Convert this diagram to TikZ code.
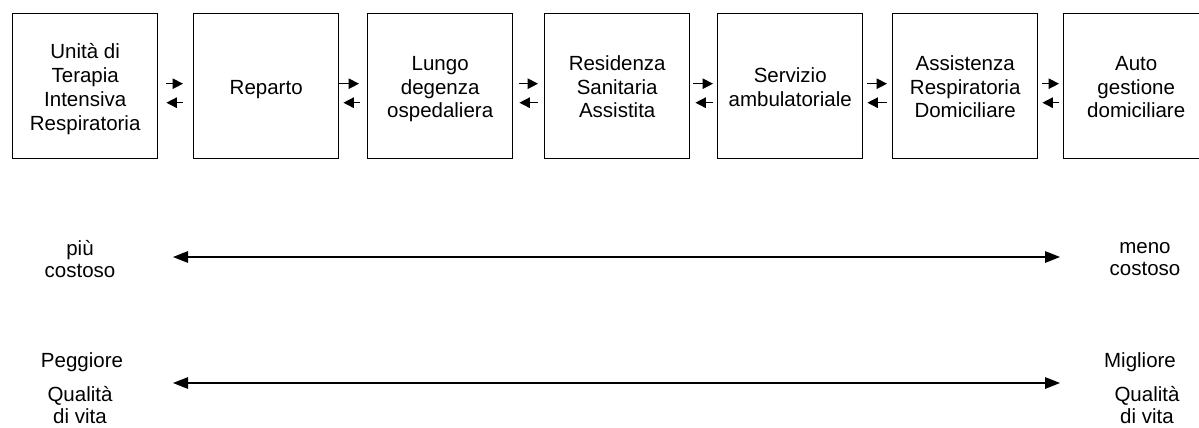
\documentclass[tikz,border=0pt]{standalone}
\usepackage{fontspec}
\setmainfont{Liberation Sans}
\usetikzlibrary{arrows.meta}
% centred stack of lines, lowered slightly inside its box
\newcommand\stagetext[1]{\raisebox{-3pt}[\height][\depth]{\begin{tabular}{@{}c@{}}#1\end{tabular}}}
\begin{document}
\begin{tikzpicture}[x=1pt,y=-1pt,
  stage/.style={draw, line width=1.4pt, minimum width=145pt, minimum height=145pt,
    anchor=north west, inner sep=0pt, font=\fontsize{20.5}{24}\selectfont},
  flow/.style={line width=1.4pt, -{Triangle[length=10.5pt,width=10.5pt]}},
  scalearrow/.style={line width=1.4pt,
    {Triangle[length=15pt,width=11.5pt]}-{Triangle[length=15pt,width=11.5pt]}},
  lbl/.style={align=center, anchor=base, inner sep=0pt, font=\fontsize{20.5}{22}\selectfont}]

\fill[white] (0,0) rectangle (1199,428);
\useasboundingbox (0,0) rectangle (1199,428);

% care settings, from most to least intensive
\node[stage] (b1) at (12,13)   {\stagetext{Unità di\\Terapia\\Intensiva\\Respiratoria}};
\node[stage] (b2) at (193,13)  {\stagetext{Reparto}};
\node[stage] (b3) at (367,13)  {\stagetext{Lungo\\degenza\\ospedaliera}};
\node[stage] (b4) at (544,13)  {\stagetext{Residenza\\Sanitaria\\Assistita}};
\node[stage] (b5) at (717,13)  {\stagetext{Servizio\\ambulatoriale}};
\node[stage] (b6) at (892,13)  {\stagetext{Assistenza\\Respiratoria\\Domiciliare}};
\node[stage] (b7) at (1063,13) {\stagetext{Auto\\gestione\\domiciliare}};

% two-way transfers between neighbouring settings
\foreach \a/\b/\p/\q/\r/\s in {b1/b2/8/10/10/8, b2/b3/0/8/7/4, b3/b4/6/6/6/6,
                                b4/b5/3/4/4/5, b5/b6/4/5/5/4, b6/b7/4/4/4/4} {
  \draw[flow, shorten <=\p pt, shorten >=\q pt]
    ([yshift=2.5pt]\a.east) -- ([yshift=2.5pt]\b.west);
  \draw[flow, shorten <=\r pt, shorten >=\s pt]
    ([yshift=-16.5pt]\b.west) -- ([yshift=-16.5pt]\a.east);
}

% cost scale (base anchor sits on the last line)
\node[lbl] (costHi) at (80,277)   {più\\costoso};
\node[lbl] (costLo) at (1145,275) {meno\\costoso};
\coordinate (costL) at (173,257);
\coordinate (costR) at (1060,257);
\draw[scalearrow] (costL) -- (costR);

% quality-of-life scale
\node[lbl] (qWorse) at (82,367)   {Peggiore};
\node[lbl] (qBetter) at (1140,367) {Migliore};
\node[lbl] (qolL) at (80,423)     {Qualità\\di vita};
\node[lbl] (qolR) at (1147,423)   {Qualità\\di vita};
\coordinate (qolA) at (173,383);
\coordinate (qolB) at (1060,383);
\draw[scalearrow] (qolA) -- (qolB);
\end{tikzpicture}
\end{document}
